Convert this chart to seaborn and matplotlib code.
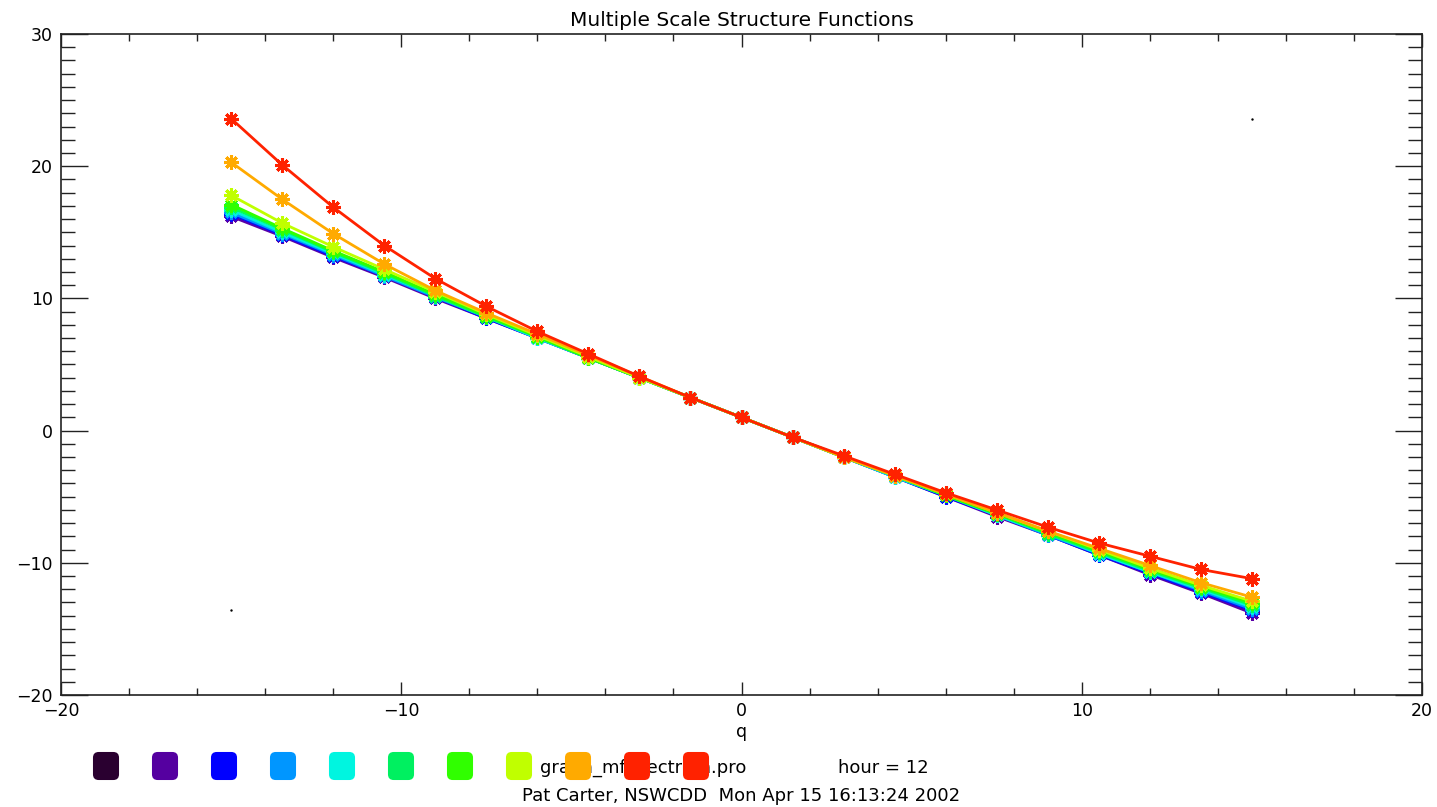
import numpy as np
import pandas as pd
import matplotlib
matplotlib.use("Agg")
import matplotlib.pyplot as plt
from matplotlib.patches import FancyBboxPatch
from matplotlib.ticker import MultipleLocator
import seaborn as sns

# ---------------- data ----------------
q = [-15, -13.5, -12, -10.5, -9, -7.5, -6, -4.5, -3, -1.5, 0,
     1.5, 3, 4.5, 6, 7.5, 9, 10.5, 12, 13.5, 15]

purple = [16.2, 14.7, 13.1, 11.6, 10.0, 8.5, 7.0, 5.5, 4.0, 2.5, 1.0,
          -0.5, -2.0, -3.5, -5.0, -6.5, -7.9, -9.4, -10.9, -12.3, -13.8]
blue = [16.4, 14.8, 13.2, 11.7, 10.1, 8.5, 7.0, 5.5, 4.0, 2.5, 1.0,
        -0.5, -2.0, -3.5, -5.0, -6.4, -7.9, -9.4, -10.8, -12.2, -13.6]
lightblue = [16.5, 14.9, 13.3, 11.7, 10.1, 8.6, 7.0, 5.5, 4.0, 2.5, 1.0,
             -0.5, -2.0, -3.5, -4.9, -6.4, -7.9, -9.3, -10.7, -12.1, -13.5]
cyan = [16.7, 15.0, 13.4, 11.8, 10.2, 8.6, 7.0, 5.5, 4.0, 2.5, 1.0,
        -0.5, -2.0, -3.5, -4.9, -6.4, -7.8, -9.3, -10.7, -12.0, -13.35]
springgreen = [16.9, 15.2, 13.5, 11.9, 10.2, 8.6, 7.1, 5.5, 4.0, 2.5, 1.0,
               -0.5, -2.0, -3.4, -4.9, -6.3, -7.8, -9.2, -10.6, -11.9, -13.2]
green = [17.1, 15.3, 13.6, 12.0, 10.3, 8.7, 7.1, 5.5, 4.0, 2.5, 1.0,
         -0.5, -2.0, -3.4, -4.9, -6.3, -7.7, -9.1, -10.5, -11.8, -13.05]
yellowgreen = [17.8, 15.7, 13.9, 12.2, 10.5, 8.8, 7.2, 5.6, 4.0, 2.5, 1.0,
               -0.5, -2.0, -3.4, -4.8, -6.2, -7.6, -9.0, -10.4, -11.7, -12.9]
orange = [20.3, 17.5, 14.9, 12.6, 10.6, 8.9, 7.3, 5.7, 4.1, 2.5, 1.0,
          -0.5, -2.0, -3.4, -4.8, -6.2, -7.6, -8.9, -10.2, -11.5, -12.6]
red = [23.6, 20.1, 16.9, 14.0, 11.5, 9.4, 7.5, 5.8, 4.1, 2.5, 1.0,
       -0.5, -1.9, -3.3, -4.7, -6.0, -7.3, -8.5, -9.5, -10.5, -11.2]

black_q = [-15, 15]
black_vals = [-13.6, 23.6]

series_names = ["purple", "blue", "lightblue", "cyan", "springgreen",
                "green", "yellowgreen", "orange", "red"]
series_vals = [purple, blue, lightblue, cyan, springgreen,
               green, yellowgreen, orange, red]
series_colors = ["#5a00a8", "#0010ff", "#0096ff", "#00f0dc", "#00ff5a",
                 "#30ff00", "#c0ff00", "#ffaa00", "#ff2200"]

legend_colors = ["#2a0030", "#5500a0", "#0000ff", "#0096ff", "#00f5e0",
                 "#00f060", "#30ff00", "#c0ff00", "#ffaa00", "#ff2200", "#ff2200"]

title = "Multiple Scale Structure Functions"
xlabel = "q"
prog_text = "graph_mfspectrum.pro"
hour_text = "hour = 12"
footer = "Pat Carter, NSWCDD  Mon Apr 15 16:13:24 2002"

# ---------------- figure ----------------
sns.set_style("white")
plt.rcParams["font.family"] = ["DejaVu Sans"]
plt.rcParams["text.color"] = "black"
plt.rcParams["axes.labelcolor"] = "black"
plt.rcParams["xtick.color"] = "#222222"
plt.rcParams["ytick.color"] = "#222222"
plt.rcParams["xtick.labelcolor"] = "black"
plt.rcParams["ytick.labelcolor"] = "black"

W, H = 1437, 807
fig = plt.figure(figsize=(W / 100, H / 100), dpi=100)
ax = fig.add_axes([61 / W, 1 - 695 / H, (1422 - 61) / W, (695 - 34) / H])

for name, vals, col in zip(series_names, series_vals, series_colors):
    df = pd.DataFrame({"q": q, "v": vals})
    sns.lineplot(data=df, x="q", y="v", ax=ax, color=col, linewidth=2.0,
                 marker=(8, 2, 0), markersize=10.5, markeredgewidth=2.2,
                 markeredgecolor=col, markerfacecolor=col, legend=False,
                 sort=False)

sns.scatterplot(x=black_q, y=black_vals, ax=ax, color="black", s=3,
                linewidth=0, legend=False)

ax.set_xlim(-20, 20)
ax.set_ylim(-20, 30)
ax.xaxis.set_major_locator(MultipleLocator(10))
ax.xaxis.set_minor_locator(MultipleLocator(2))
ax.yaxis.set_major_locator(MultipleLocator(10))
ax.yaxis.set_minor_locator(MultipleLocator(1))

ax.tick_params(axis="x", which="major", direction="in", length=9.5, width=1.0,
               top=True, bottom=True, labelsize=12.5, pad=5)
ax.tick_params(axis="x", which="minor", direction="in", length=4.8, width=1.0,
               top=True, bottom=True)
ax.tick_params(axis="y", which="major", direction="in", length=19.5, width=1.0,
               left=True, right=True, labelsize=12.5, pad=6)
ax.tick_params(axis="y", which="minor", direction="in", length=9.8, width=1.0,
               left=True, right=True)

ax.set_xticklabels([f"{int(t)}" if t >= 0 else f"\u2212{int(-t)}"
                    for t in ax.get_xticks()])
ax.set_yticklabels([f"{int(t)}" if t >= 0 else f"\u2212{int(-t)}"
                    for t in ax.get_yticks()])

for sp in ax.spines.values():
    sp.set_color("#222222")
    sp.set_linewidth(1.2)
    sp.set_visible(True)

ax.set_xlabel(xlabel, fontsize=12.5, labelpad=2)
ax.set_ylabel("")
ax.set_title(title, fontsize=14.5, pad=6)

# bottom annotation line
fig.text(540 / W, 1 - 768 / H, prog_text, fontsize=13, ha="left",
         va="center", zorder=2)
fig.text(838 / W, 1 - 768 / H, hour_text, fontsize=13, ha="left",
         va="center", zorder=2)
fig.text(741 / W, 1 - 796 / H, footer, fontsize=13, ha="center",
         va="center", zorder=2)

sw, sh = 26, 28
for i, col in enumerate(legend_colors):
    cx = 106 + 59 * i
    cy = 766
    p = FancyBboxPatch(((cx - sw / 2 + 5) / W, 1 - (cy + sh / 2 - 5) / H),
                       (sw - 10) / W, (sh - 10) / H,
                       boxstyle="round,pad=0.0035,rounding_size=0.004",
                       transform=fig.transFigure, facecolor=col,
                       edgecolor=col, linewidth=0, zorder=5,
                       mutation_aspect=W / H)
    fig.patches.append(p)

fig.savefig("out.png", dpi=100)
